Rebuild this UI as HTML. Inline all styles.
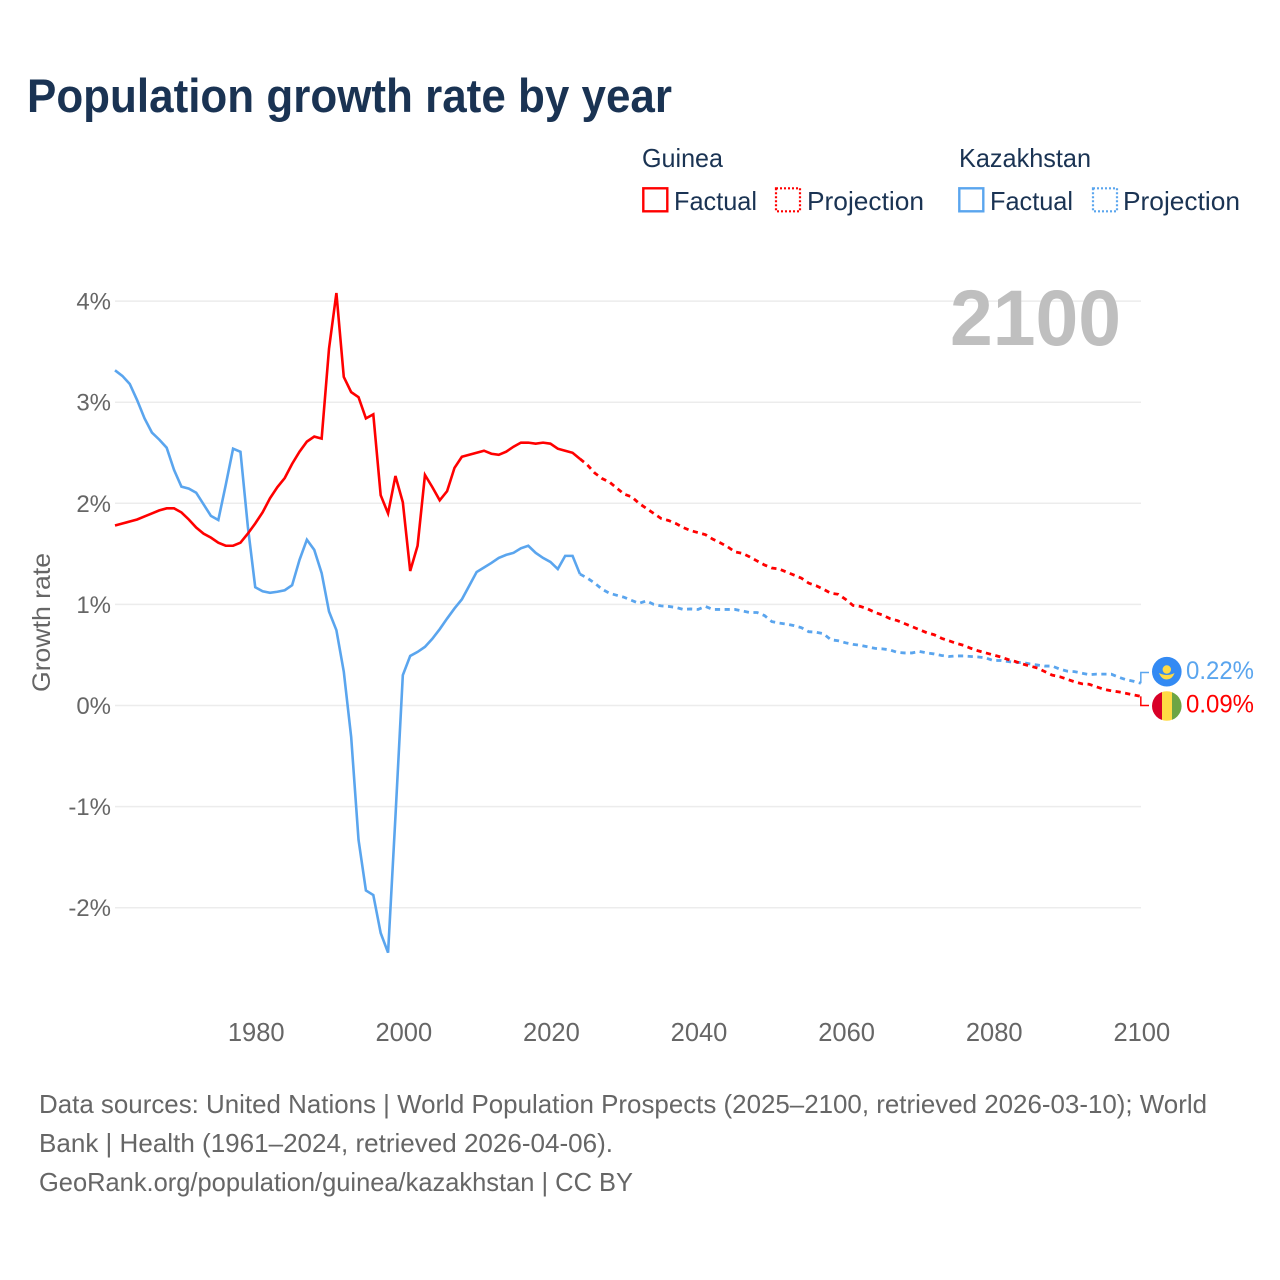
<!DOCTYPE html>
<html lang="en">
<head>
<meta charset="utf-8">
<title>Population growth rate by year</title>
<style>
html,body{margin:0;padding:0;background:#fff;}
svg{display:block;font-family:"Liberation Sans",sans-serif;}
</style>
</head>
<body>
<svg id="chart" xmlns="http://www.w3.org/2000/svg" width="1280" height="1280" viewBox="0 0 1280 1280">
  <rect x="0" y="0" width="1280" height="1280" fill="#ffffff"/>
  <text x="27" y="112" font-size="47" font-weight="700" fill="#1a3353" textLength="645" lengthAdjust="spacingAndGlyphs">Population growth rate by year</text>

  <g fill="#1a3353" font-size="26">
    <text x="642" y="167" textLength="81" lengthAdjust="spacingAndGlyphs">Guinea</text>
    <text x="959" y="167" textLength="132" lengthAdjust="spacingAndGlyphs">Kazakhstan</text>
    <g>
      <rect x="643.3" y="188.3" width="24" height="23" fill="none" stroke="#ff0000" stroke-width="2.4"/>
      <text x="674" y="210" textLength="83" lengthAdjust="spacingAndGlyphs">Factual</text>
    </g>
    <g>
      <rect x="776" y="188.3" width="24" height="23" fill="none" stroke="#ff0000" stroke-width="2.2" stroke-dasharray="2 2"/>
      <text x="807" y="210" textLength="117" lengthAdjust="spacingAndGlyphs">Projection</text>
    </g>
    <g>
      <rect x="959.3" y="188.3" width="24" height="23" fill="none" stroke="#5aa5ee" stroke-width="2.4"/>
      <text x="990" y="210" textLength="83" lengthAdjust="spacingAndGlyphs">Factual</text>
    </g>
    <g>
      <rect x="1093" y="188.3" width="24" height="23" fill="none" stroke="#5aa5ee" stroke-width="2.2" stroke-dasharray="2 2"/>
      <text x="1123" y="210" textLength="117" lengthAdjust="spacingAndGlyphs">Projection</text>
    </g>
  </g>

  <g id="grid"></g>
  <g id="yticks"></g>
  <g id="xticks"></g>
  <text transform="translate(50,692) rotate(-90)" font-size="25" fill="#666666" textLength="139" lengthAdjust="spacingAndGlyphs">Growth rate</text>
  <text x="950" y="345" font-size="79" font-weight="700" fill="#bfbfbf" textLength="171" lengthAdjust="spacingAndGlyphs">2100</text>
  <g id="series" fill="none"></g>

  <g>
    <circle cx="1166.8" cy="671.7" r="14.8" fill="#338af3"/>
    <circle cx="1166.8" cy="669.5" r="4.2" fill="#ffda44"/>
    <path d="M1159 673 Q1166.8 677 1174.6 673 Q1172 679.5 1166.8 679.5 Q1161.5 679.5 1159 673 Z" fill="#ffda44"/>
    <text x="1186" y="679" font-size="25" fill="#5aa5ee" textLength="68" lengthAdjust="spacingAndGlyphs">0.22%</text>
  </g>
  <g>
    <clipPath id="guinea-clip"><circle cx="1166.8" cy="706" r="14.8"/></clipPath>
    <g clip-path="url(#guinea-clip)">
      <rect x="1152" y="691" width="10" height="30" fill="#d80027"/>
      <rect x="1162" y="691" width="10" height="30" fill="#ffda44"/>
      <rect x="1172" y="691" width="10" height="30" fill="#6da544"/>
    </g>
    <text x="1186" y="712.5" font-size="25" fill="#ff0000" textLength="68" lengthAdjust="spacingAndGlyphs">0.09%</text>
  </g>

  <g font-size="26" fill="#666666">
    <text x="39" y="1113" textLength="1168" lengthAdjust="spacingAndGlyphs">Data sources: United Nations | World Population Prospects (2025–2100, retrieved 2026-03-10); World</text>
    <text x="39" y="1152" textLength="574" lengthAdjust="spacingAndGlyphs">Bank | Health (1961–2024, retrieved 2026-04-06).</text>
    <text x="39" y="1191" textLength="594" lengthAdjust="spacingAndGlyphs">GeoRank.org/population/guinea/kazakhstan | CC BY</text>
  </g>
</svg>
<script>
var yTickValues = [4, 3, 2, 1, 0, -1, -2];
var yTickLabels = ['4%', '3%', '2%', '1%', '0%', '-1%', '-2%'];
var xTickYears = [1980, 2000, 2020, 2040, 2060, 2080, 2100];
var firstYear = 1961;
var lastFactualYear = 2024;

var guineaFactual = [1.78,1.80,1.82,1.84,1.87,1.90,1.93,1.95,1.95,1.91,1.84,1.76,1.70,1.66,1.61,1.58,1.58,1.61,1.70,1.80,
  1.91,2.05,2.16,2.25,2.39,2.51,2.61,2.66,2.64,3.53,4.08,3.25,3.10,3.05,2.84,2.88,2.08,1.90,2.27,2.01,
  1.33,1.58,2.28,2.16,2.03,2.12,2.35,2.46,2.48,2.50,2.52,2.49,2.48,2.51,2.56,2.60,2.60,2.59,2.60,2.59,
  2.54,2.52,2.50,2.44];
var guineaProjection = [2.38,2.30,2.245,2.21,2.15,2.09,2.065,2.00,1.95,1.90,1.85,1.83,1.80,1.76,1.73,1.71,1.69,1.645,1.61,1.57,
  1.52,1.505,1.47,1.43,1.39,1.36,1.35,1.32,1.29,1.26,1.21,1.185,1.15,1.11,1.10,1.05,0.99,0.98,0.955,0.92,
  0.895,0.86,0.84,0.81,0.78,0.75,0.72,0.70,0.665,0.64,0.615,0.595,0.565,0.54,0.52,0.50,0.48,0.455,0.435,0.41,
  0.39,0.37,0.335,0.30,0.285,0.26,0.235,0.215,0.21,0.185,0.16,0.145,0.135,0.12,0.105,0.09];
var kazakhstanFactual = [3.315,3.26,3.18,3.02,2.84,2.70,2.63,2.55,2.33,2.165,2.145,2.105,1.99,1.875,1.835,2.18,2.54,2.51,1.77,1.17,
  1.13,1.115,1.125,1.14,1.19,1.44,1.64,1.54,1.31,0.93,0.745,0.335,-0.31,-1.33,-1.83,-1.875,-2.25,-2.445,-1.10,0.30,
  0.49,0.53,0.58,0.66,0.755,0.86,0.96,1.05,1.185,1.32,1.365,1.41,1.46,1.49,1.51,1.555,1.58,1.51,1.46,1.42,
  1.35,1.48,1.48,1.30];
var kazakhstanProjection = [1.26,1.21,1.15,1.11,1.09,1.07,1.04,1.01,1.035,1.00,0.985,0.98,0.97,0.95,0.955,0.95,0.98,0.95,0.95,0.95,
  0.95,0.935,0.92,0.92,0.89,0.83,0.815,0.805,0.79,0.77,0.73,0.725,0.71,0.65,0.64,0.62,0.605,0.595,0.58,0.565,
  0.56,0.55,0.525,0.52,0.52,0.535,0.52,0.51,0.495,0.485,0.49,0.49,0.485,0.48,0.47,0.445,0.445,0.435,0.425,0.425,
  0.41,0.40,0.39,0.39,0.36,0.34,0.335,0.32,0.305,0.31,0.31,0.31,0.28,0.255,0.24,0.22];

var SVGNS = 'http://www.w3.org/2000/svg';
function xScale(year) { return 115 + (year - 1961) * 7.38; }
function yScale(value) { return 705.5 - value * 101.1; }

var gridLayer = document.getElementById('grid');
var yTickLayer = document.getElementById('yticks');
var xTickLayer = document.getElementById('xticks');
var seriesLayer = document.getElementById('series');

yTickValues.forEach(function (v, i) {
  var line = document.createElementNS(SVGNS, 'line');
  
  
  line.setAttribute('x1', 115);
  line.setAttribute('x2', 1141);
  line.setAttribute('y1', yScale(v));
  line.setAttribute('y2', yScale(v));
  line.setAttribute('stroke', '#ececec');
  line.setAttribute('stroke-width', 1.5);
  gridLayer.appendChild(line);

  var label = document.createElementNS(SVGNS, 'text');
  
  
  label.setAttribute('x', 111);
  label.setAttribute('y', yScale(v) + 8.5);
  label.setAttribute('text-anchor', 'end');
  label.setAttribute('font-size', 24);
  label.setAttribute('fill', '#666666');
  label.textContent = yTickLabels[i];
  yTickLayer.appendChild(label);
});

xTickYears.forEach(function (year) {
  var label = document.createElementNS(SVGNS, 'text');
  
  
  label.setAttribute('x', xScale(year) + 1);
  label.setAttribute('y', 1041);
  label.setAttribute('text-anchor', 'middle');
  label.setAttribute('font-size', 25.5);
  label.setAttribute('fill', '#666666');
  label.textContent = String(year);
  xTickLayer.appendChild(label);
});

function linePath(values, startYear) {
  var d = '';
  values.forEach(function (v, i) {
    d += (i ? 'L' : 'M') + xScale(startYear + i).toFixed(2) + ' ' + yScale(v).toFixed(2);
  });
  return d;
}

function drawFactual(name, values, color) {
  var path = document.createElementNS(SVGNS, 'path');
  
  
  path.setAttribute('d', linePath(values, firstYear));
  path.setAttribute('stroke', color);
  path.setAttribute('stroke-width', 2.6);
  path.setAttribute('stroke-linejoin', 'miter');
  seriesLayer.appendChild(path);
}

function drawProjection(name, factual, values, color) {
  var joined = [factual[factual.length - 1]].concat(values);
  var path = document.createElementNS(SVGNS, 'path');
  
  
  path.setAttribute('d', linePath(joined, lastFactualYear));
  path.setAttribute('stroke', color);
  path.setAttribute('stroke-width', 2.8);
  path.setAttribute('stroke-dasharray', '5.2 4.5');
  seriesLayer.appendChild(path);
}

function drawConnector(name, value, targetY, color) {
  var y = yScale(value);
  var path = document.createElementNS(SVGNS, 'path');
  
  
  path.setAttribute('d', 'M' + xScale(2100) + ' ' + y + 'V' + targetY + 'H1149');
  path.setAttribute('stroke', color);
  path.setAttribute('stroke-width', 1.5);
  seriesLayer.appendChild(path);
}

drawFactual('kazakhstan-factual-line', kazakhstanFactual, '#5aa5ee');
drawProjection('kazakhstan-projection-line', kazakhstanFactual, kazakhstanProjection, '#5aa5ee');
drawFactual('guinea-factual-line', guineaFactual, '#ff0000');
drawProjection('guinea-projection-line', guineaFactual, guineaProjection, '#ff0000');
drawConnector('kazakhstan-end-connector', kazakhstanProjection[kazakhstanProjection.length - 1], 672.5, '#5aa5ee');
drawConnector('guinea-end-connector', guineaProjection[guineaProjection.length - 1], 705.5, '#ff0000');
</script>
</body>
</html>
